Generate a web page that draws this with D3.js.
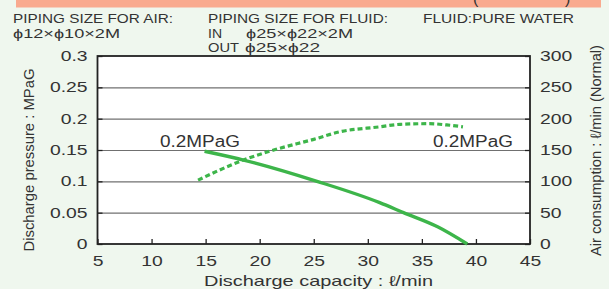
<!DOCTYPE html>
<html><head><meta charset="utf-8">
<script src="https://cdn.jsdelivr.net/npm/d3@7"></script>
<style>
html,body{margin:0;padding:0;background:#eff7ee;}
svg{display:block;}
text{font-family:"Liberation Sans",Arial,sans-serif;fill:#333;}
</style></head><body>
<svg id="c" width="609" height="289"></svg>
<script>
// ---- data ----
const xTicks = [5,10,15,20,25,30,35,40,45];
const yLeftTicks = [0,0.05,0.1,0.15,0.2,0.25,0.3];
const yLeftLabels = ["0","0.05","0.1","0.15","0.2","0.25","0.3"];
const yRightTicks = [0,50,100,150,200,250,300];
// Discharge pressure (MPaG) vs capacity, at 0.2MPaG air
const pressX = [14.9, 18.5, 25.3, 31.1, 33.3, 36.5, 39.2];
const pressY = [0.148, 0.134, 0.100, 0.066, 0.050, 0.027, 0.0];
// Air consumption (l/min Normal) vs capacity
const airX = [14.3, 18.5, 21.3, 25.0, 27.4, 31.1, 33.0, 35.7, 37.3, 38.8];
const airY = [102, 134, 150, 167, 179, 187, 191, 192, 190, 187];

const svg = d3.select("#c");
const L=97.5, R=530, T=56, B=244;
const x = d3.scaleLinear().domain([5,45]).range([L,R]);
const yL = d3.scaleLinear().domain([0,0.3]).range([B,T]);
const yR = d3.scaleLinear().domain([0,300]).range([B,T]);

// banner
const defs = svg.append("defs");
defs.append("clipPath").attr("id","bclip").append("rect").attr("x",16).attr("y",0).attr("width",585).attr("height",7.5);
svg.append("rect").attr("x",16).attr("y",0).attr("width",585).attr("height",7.5).attr("fill","#f9aa8f");
const bg = svg.append("g").attr("clip-path","url(#bclip)");
bg.append("text").attr("x",473).attr("y",4).attr("font-size",16).text("(");
bg.append("text").attr("x",565).attr("y",4).attr("font-size",16).text(")");

// header texts
function htext(str, xx, yy, w){
  const t = svg.append("text").attr("x",xx).attr("y",yy).attr("font-size",13).text(str);
  if (w) t.attr("textLength",w).attr("lengthAdjust","spacingAndGlyphs");
  return t;
}
htext("PIPING SIZE FOR AIR:",13,22.5,160);
htext("\u03D512\u00D7\u03D510\u00D72M",13,37.5,107);
htext("PIPING SIZE FOR FLUID:",208,22.5,180);
htext("IN",208,37.5,14);
htext("\u03D525\u00D7\u03D522\u00D72M",246,37.5,107);
htext("OUT",208,51.5,31);
htext("\u03D525\u00D7\u03D522",245,51.5,75);
htext("FLUID:PURE WATER",423,22.5,151);

// plot background
svg.append("rect").attr("x",L).attr("y",T).attr("width",R-L).attr("height",B-T).attr("fill","#fff");

// gridlines
svg.append("g").attr("transform",`translate(${L},0)`)
  .call(d3.axisLeft(yL).tickValues(yLeftTicks.slice(1,-1)).tickSize(-(R-L)).tickFormat(""))
  .call(g=>g.select(".domain").remove())
  .call(g=>g.selectAll("line").attr("stroke","#707070").attr("stroke-width",1.1));

function stretch(sel,k){
  sel.each(function(){
    const t=d3.select(this);
    const xx=+t.attr("x")||0, yy=+t.attr("y")||0;
    t.attr("x",0).attr("y",0).attr("transform",`translate(${xx},${yy}) scale(${k},1)`);
  });
}

// axes
const gl = svg.append("g").attr("transform",`translate(${L},0)`)
  .call(d3.axisLeft(yL).tickValues(yLeftTicks).tickFormat((d,i)=>yLeftLabels[i]).tickSizeInner(-5).tickSizeOuter(0).tickPadding(10));
const gr = svg.append("g").attr("transform",`translate(${R},0)`)
  .call(d3.axisRight(yR).tickValues(yRightTicks).tickSizeInner(-5).tickSizeOuter(0).tickPadding(10));
const gb = svg.append("g").attr("transform",`translate(0,${B})`)
  .call(d3.axisBottom(x).tickValues(xTicks).tickSizeInner(-5).tickSizeOuter(0).tickPadding(12));
[gl,gr,gb].forEach(g=>{
  g.select(".domain").remove();
  g.selectAll("line").attr("stroke","#222").attr("stroke-width",1.3);
  g.selectAll("text").attr("font-size",14).attr("fill","#333")
   .attr("font-family","'Liberation Sans',Arial,sans-serif");
  stretch(g.selectAll("text"),1.38);
});

// frame
svg.append("rect").attr("x",L).attr("y",T).attr("width",R-L).attr("height",B-T)
  .attr("fill","none").attr("stroke","#222").attr("stroke-width",1.8);

// lines
const green="#3db54a";
const lp = d3.line().x((d,i)=>x(pressX[i])).y((d,i)=>yL(pressY[i])).curve(d3.curveMonotoneX);
svg.append("path").attr("d",lp(pressX)).attr("fill","none").attr("stroke",green).attr("stroke-width",3.4);
const la = d3.line().x((d,i)=>x(airX[i])).y((d,i)=>yR(airY[i])).curve(d3.curveMonotoneX);
svg.append("path").attr("d",la(airX)).attr("fill","none").attr("stroke",green).attr("stroke-width",3.2)
  .attr("stroke-dasharray","5,3");

// annotations
svg.append("text").attr("x",160).attr("y",146.7).attr("font-size",16).attr("textLength",80).attr("lengthAdjust","spacingAndGlyphs").text("0.2MPaG");
svg.append("text").attr("x",433).attr("y",146.7).attr("font-size",16).attr("textLength",80).attr("lengthAdjust","spacingAndGlyphs").text("0.2MPaG");

// axis titles
svg.append("text").attr("x",204).attr("y",285.5).attr("font-size",14.5).attr("textLength",229).attr("lengthAdjust","spacingAndGlyphs")
  .text("Discharge capacity : \u2113/min");
svg.append("text").attr("transform","translate(34,251.5) rotate(-90)").attr("font-size",15).attr("textLength",183).attr("lengthAdjust","spacingAndGlyphs")
  .text("Discharge pressure : MPaG");
svg.append("text").attr("transform","translate(601,256) rotate(-90)").attr("font-size",15).attr("textLength",211).attr("lengthAdjust","spacingAndGlyphs")
  .text("Air consumption : \u2113/min (Normal)");
</script></body></html>
